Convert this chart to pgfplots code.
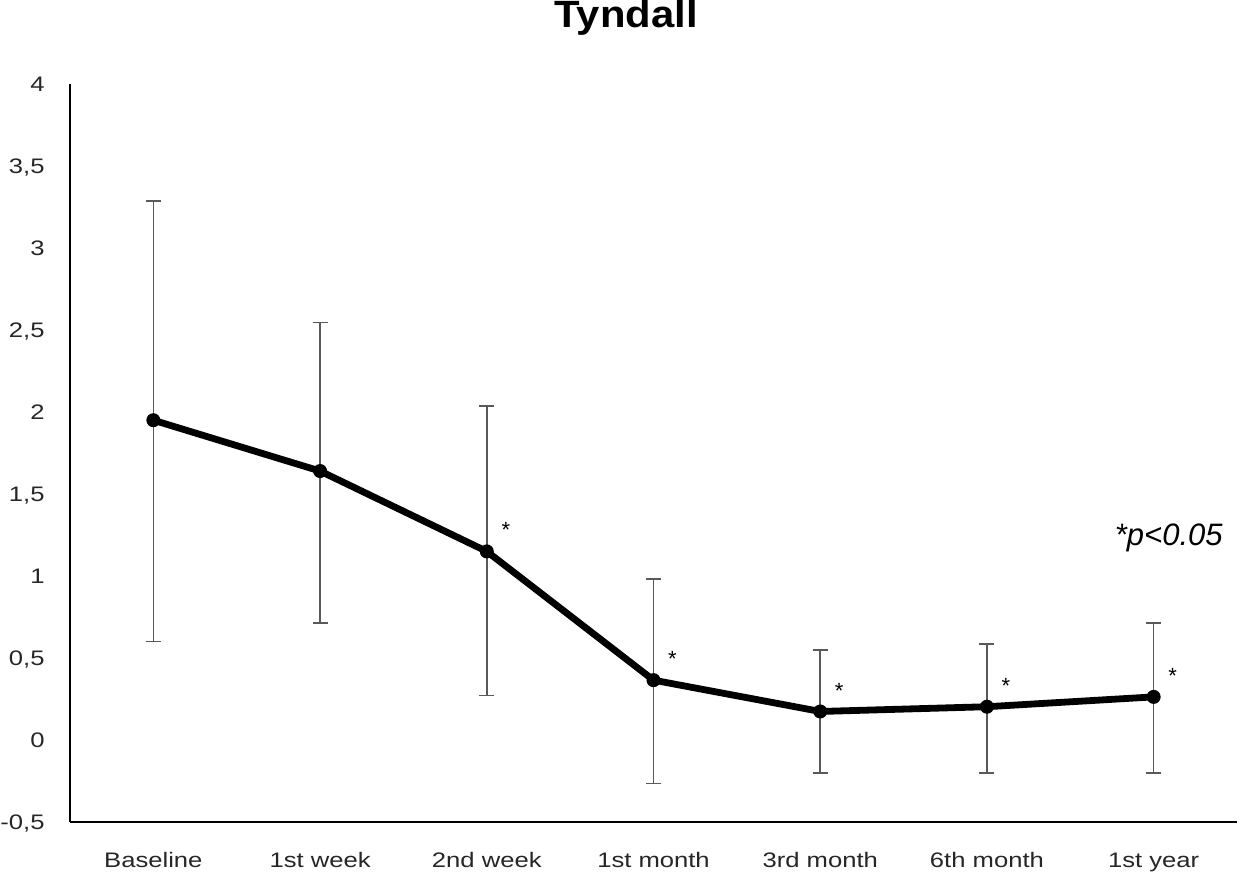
\documentclass[border=0pt]{standalone}
\usepackage{pgfplots}
\pgfplotsset{compat=1.18}
\usepackage{fontspec}
\setmainfont{Liberation Sans}
\newfontfamily\tickfont[FakeStretch=1.22]{Liberation Sans}
\newfontfamily\titlefont[FakeStretch=1.1]{Liberation Sans}
\tikzset{star/.style={font=\fontsize{11}{12}\selectfont, inner sep=0pt, anchor=center, xshift=9.5pt, yshift=10.5pt}}
\begin{document}
\begin{tikzpicture}
\begin{axis}[
  scale only axis,
  width=583.5pt, height=369pt,
  xmin=-0.5, xmax=6.5,
  ymin=-0.5, ymax=4,
  axis lines*=left,
  axis line style={line width=0.9pt, black},
  xtick={0,1,2,3,4,5,6},
  xticklabels={Baseline,1st week,2nd week,1st month,3rd month,6th month,1st year},
  ytick={-0.5,0,0.5,1,1.5,2,2.5,3,3.5,4},
  major tick length=0pt,
  /pgf/number format/assume math mode=true,
  /pgf/number format/use comma,
  ticklabel style={font=\tickfont\fontsize{10.5}{12}\selectfont, text=black!85},
  xticklabel style={anchor=base, inner sep=0pt, yshift=-22.5pt},
  yticklabel style={anchor=base east, inner sep=0pt, xshift=-12.5pt, yshift=-3.8pt},
  clip=false,
]
% error bars (drawn first, behind the line)
\addplot[draw=none, mark=none, forget plot,
  error bars/.cd, y dir=both, y explicit,
  error bar style={draw=black!65, solid, line width=0.8pt},
  error mark options={rotate=90, mark size=3.75pt, draw=black!65, solid, line width=0.8pt}]
coordinates {
  (0,1.95) += (0,1.335) -= (0,1.35)
  (1,1.64) += (0,0.905) -= (0,0.925)
  (2,1.15) += (0,0.888) -= (0,0.878)
  (3,0.365) += (0,0.616) -= (0,0.631)
  (4,0.174) += (0,0.375) -= (0,0.375)
  (5,0.203) += (0,0.381) -= (0,0.404)
  (6,0.263) += (0,0.452) -= (0,0.464)
};
% mean line
\addplot[black, line width=3.4pt, mark=*, mark size=3.2pt, mark options={solid, fill=black, line width=0.6pt}]
coordinates {
  (0,1.95) (1,1.64) (2,1.15) (3,0.365) (4,0.174) (5,0.203) (6,0.263)
};
% significance stars
\node[star] at (axis cs:2,1.15) {*};
\node[star] at (axis cs:3,0.365) {*};
\node[star] at (axis cs:4,0.174) {*};
\node[star] at (axis cs:5,0.203) {*};
\node[star] at (axis cs:6,0.263) {*};
\node[font=\fontsize{15.5}{17}\selectfont\itshape, anchor=east, inner sep=0pt] at (axis cs:6.5,1.23) [xshift=-7pt] {*p<0.05};
\end{axis}
\node[font=\titlefont\fontsize{19}{21}\selectfont\bfseries, anchor=base, inner sep=0pt] at ([shift={(278pt,28pt)}]current axis.north west) {Tyndall};
\pgfresetboundingbox
\useasboundingbox ([shift={(-35pt,-25.5pt)}]current axis.south west) rectangle ([shift={(1.5pt,42pt)}]current axis.north east);
\end{tikzpicture}
\end{document}
